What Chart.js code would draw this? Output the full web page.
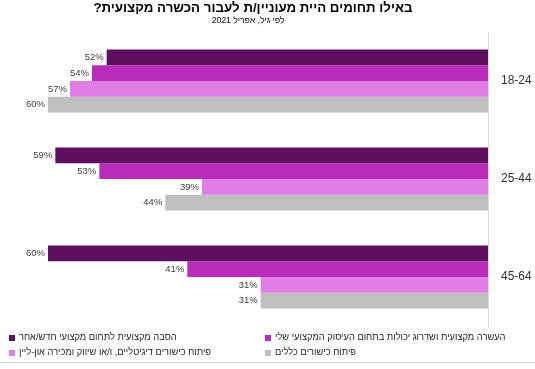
<!DOCTYPE html>
<html lang="he">
<head>
<meta charset="UTF-8">
<title>הכשרה מקצועית לפי גיל</title>
<script src="https://cdn.jsdelivr.net/npm/chart.js"></script>
<style>
  body { margin: 0; background: #fff; font-family: "Liberation Sans", Arial, sans-serif; }
  #wrap { position: relative; width: 535px; height: 369px; }
  #chart { position: absolute; left: 0; top: 0; }
  .head { position: absolute; left: 0; text-align: center; direction: rtl; color: #000; }
  #title { top: 0; width: 506px; font-size: 13.3px; font-weight: bold; line-height: 15px; }
  #subtitle { top: 14px; width: 496px; font-size: 9px; letter-spacing: -0.2px; line-height: 12px; color: #111; }
  .item { position: absolute; display: flex; align-items: center; font-size: 9.3px; line-height: 13px; color: #262626; white-space: nowrap; }
  .box { width: 6px; height: 6px; margin-right: 4px; }
  #rule { position: absolute; left: 0; top: 362px; width: 535px; height: 1px; background: #d9d9d9; }
</style>
</head>
<body>
<div id="wrap">
  <canvas id="chart" width="535" height="369"></canvas>
  <div class="head" id="title">באילו תחומים היית מעוניין/ת לעבור הכשרה מקצועית?</div>
  <div class="head" id="subtitle">לפי גיל, אפריל 2021</div>
  <div id="legend"></div>
  <div id="rule"></div>
</div>
<script>
  // קבוצות גיל
  const ageGroups = ['18-24', '25-44', '45-64'];
  const seriesNames = [
    'הסבה מקצועית לתחום מקצועי חדש/אחר',
    'העשרה מקצועית ושדרוג יכולות בתחום העיסוק המקצועי שלי',
    'פיתוח כישורים דיגיטליים, ו/או שיווק ומכירה און-ליין',
    'פיתוח כישורים כללים'
  ];
  const careerChange = [52, 59, 60];
  const enrichment = [54, 53, 41];
  const digitalSkills = [57, 39, 31];
  const generalSkills = [60, 44, 31];
  const colors = ['#5e1060', '#b82bbb', '#e07ee6', '#bfbfbf'];

  const valueLabels = {
    id: 'valueLabels',
    afterDatasetsDraw(chart) {
      const ctx = chart.ctx;
      ctx.save();
      ctx.font = '9.5px "Liberation Sans", Arial, sans-serif';
      ctx.fillStyle = '#404040';
      ctx.textAlign = 'right';
      ctx.textBaseline = 'middle';
      chart.data.datasets.forEach((ds, i) => {
        chart.getDatasetMeta(i).data.forEach((bar, j) => {
          ctx.fillText(ds.data[j] + '%', bar.x - 3, bar.y);
        });
      });
      ctx.restore();
    }
  };

  const allSeries = [careerChange, enrichment, digitalSkills, generalSkills];

  new Chart(document.getElementById('chart'), {
    type: 'bar',
    data: {
      labels: ageGroups,
      datasets: allSeries.map((d, i) => ({
        label: seriesNames[i],
        data: d,
        backgroundColor: colors[i],
        barPercentage: 1,
        categoryPercentage: 0.643
      }))
    },
    options: {
      indexAxis: 'y',
      responsive: false,
      animation: false,
      layout: { padding: { top: 32, bottom: 43, left: 48, right: 0 } },
      plugins: {
        legend: { display: false },
        tooltip: { enabled: false }
      },
      scales: {
        x: { display: false, reverse: true, min: 0, max: 60 },
        y: {
          position: 'right',
          grid: { display: false, drawTicks: false },
          border: { display: true, color: '#d9d9d9' },
          ticks: { color: '#333', padding: 13, font: { size: 12, family: '"Liberation Sans", Arial, sans-serif' } },
          afterFit: s => { s.width = 47; }
        }
      }
    },
    plugins: [valueLabels]
  });

  // מקרא בשתי עמודות
  const legendPos = [[9, 331], [265, 331], [9, 346], [265, 346]];
  const legend = document.getElementById('legend');
  seriesNames.forEach((name, k) => {
    const item = document.createElement('div');
    item.className = 'item';
    item.style.left = legendPos[k][0] + 'px';
    item.style.top = legendPos[k][1] + 'px';
    item.innerHTML = '<span class="box" style="background:' + colors[k] + '"></span><span dir="rtl">' + name + '</span>';
    legend.appendChild(item);
  });
</script>
</body>
</html>
